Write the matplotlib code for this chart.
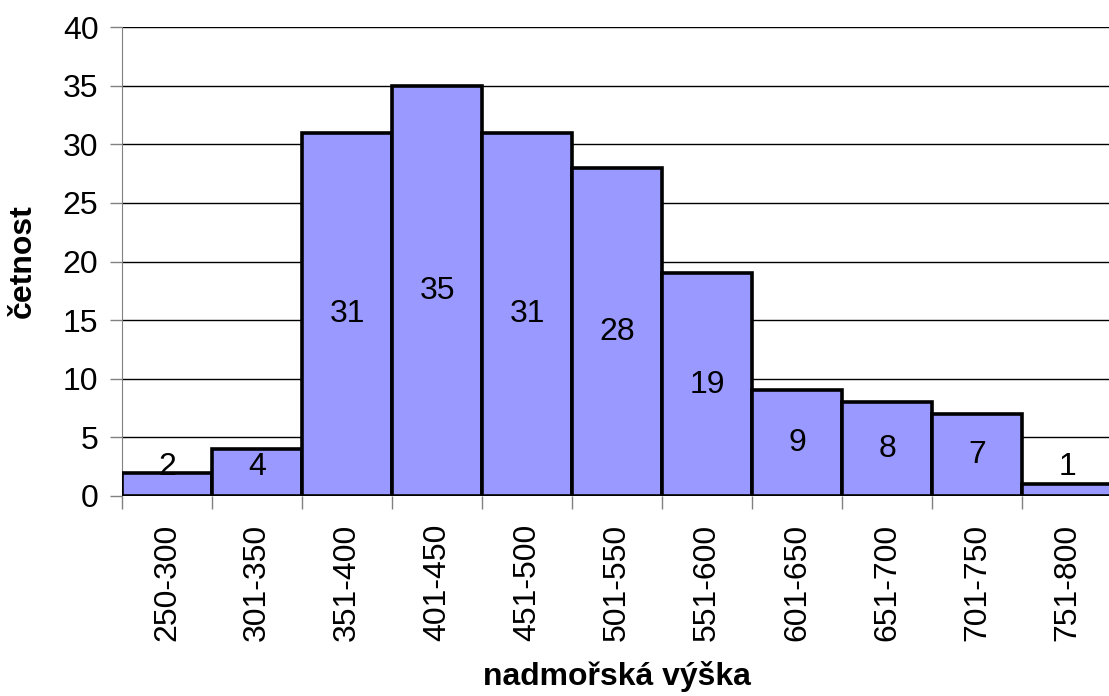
import matplotlib
matplotlib.use('Agg')
import matplotlib.pyplot as plt
import numpy as np

plt.rcParams['font.family'] = ['Liberation Sans', 'DejaVu Sans']

# data
intervaly = ['250-300', '301-350', '351-400', '401-450', '451-500', '501-550',
             '551-600', '601-650', '651-700', '701-750', '751-800']
cetnosti = [2, 4, 31, 35, 31, 28, 19, 9, 8, 7, 1]

fig = plt.figure(figsize=(11.09, 6.96), dpi=100)
ax = fig.add_axes([0.110, 0.2874, 0.893, 0.6737])

x = np.arange(len(intervaly))
ax.bar(x, cetnosti, width=1.0, color='#9999FF', edgecolor='black', linewidth=2.6, zorder=3)

# popisky uprostred sloupcu, u nizkych sloupcu ne nize nez 2.5
for xi, v in zip(x, cetnosti):
    ax.text(xi, max(v / 2, 2.5), str(v), ha='center', va='center', fontsize=23, zorder=4)

ax.set_xlim(-0.5, len(intervaly) - 0.5)
ax.set_ylim(0, 40)
ax.set_yticks(np.arange(0, 41, 5))
ax.yaxis.grid(True, color='black', linewidth=1.0, zorder=0)

ax.set_xticks(x)
ax.set_xticklabels(intervaly, rotation=90, fontsize=23)
ax.tick_params(axis='x', which='major', length=0, pad=20)
ax.set_xticks(np.arange(-0.5, len(intervaly), 1.0), minor=True)
ax.tick_params(axis='x', which='minor', length=9, color='#808080', width=1)
ax.tick_params(axis='y', labelsize=23, length=9, color='#808080', width=1, pad=8)

for s in ['top', 'right']:
    ax.spines[s].set_visible(False)
ax.spines['left'].set_color('#808080')
ax.spines['bottom'].set_visible(False)

ax.set_ylabel('četnost', fontsize=23, fontweight='bold', labelpad=18)
ax.set_xlabel('nadmořská výška', fontsize=23, fontweight='bold', labelpad=14)

fig.savefig('out.png', dpi=100)
